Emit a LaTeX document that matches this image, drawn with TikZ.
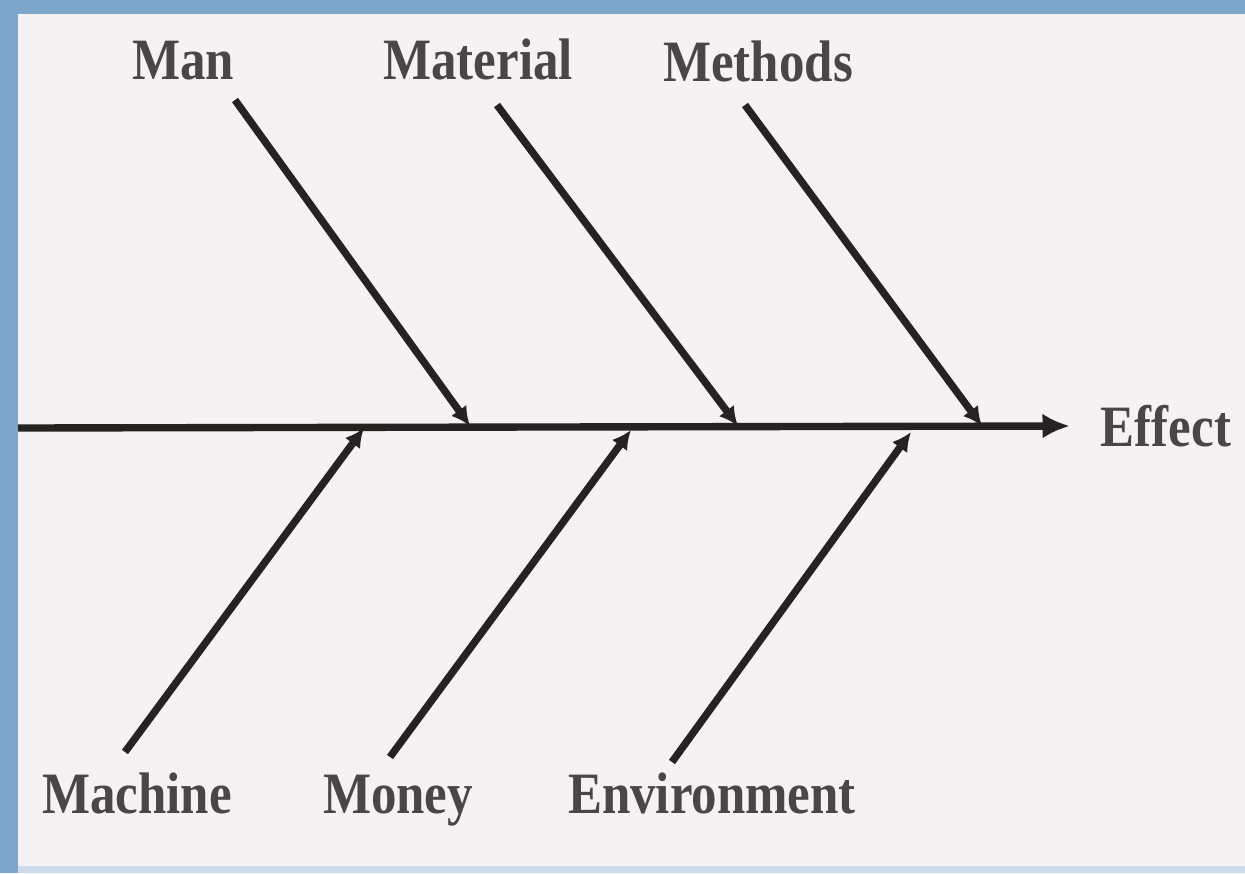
\documentclass[tikz,border=0pt]{standalone}
\usepackage{fontspec}
\setmainfont{Liberation Serif}
\usetikzlibrary{arrows.meta}
\definecolor{bgc}{HTML}{F4F2F2}
\definecolor{framec}{HTML}{7DA6CB}
\definecolor{linec}{HTML}{262222}
\definecolor{textc}{HTML}{4A4646}
\tikzset{
  bone/.style={draw=linec, line width=4.2pt, -{Latex[length=0.38cm,width=0.38cm]}},
  spine/.style={draw=linec, line width=4.2pt, -{Latex[length=0.55cm,width=0.5cm]}},
  lbl/.style={text=textc, font=\fontsize{29}{32}\selectfont\bfseries, inner sep=0pt, anchor=base},
}
\begin{document}
\begin{tikzpicture}[x=0.02cm, y=-0.02cm]
\useasboundingbox (0,0) rectangle (1245,873);
\fill[framec] (0,0) rectangle (1245,873);
\fill[bgc] (18,14) rectangle (1245,866);
\fill[framec!40!white] (18,866) rectangle (1245,873);
% labels
\node[lbl] (man) at (183,79) {\scalebox{1}[1.15]{Man}};
\node[lbl] (material) at (478,79) {\scalebox{1}[1.15]{Material}};
\node[lbl] (methods) at (758,81) {\scalebox{1}[1.15]{Methods}};
\node[lbl] (effect) at (1166,446) {\scalebox{1}[1.15]{Effect}};
\node[lbl] (machine) at (137,813) {\scalebox{1}[1.15]{Machine}};
\node[lbl] (money) at (398,813) {\scalebox{1}[1.15]{Money}};
\node[lbl] (environment) at (712,813) {\scalebox{1}[1.15]{Environment}};
% spine
\coordinate (tail) at (18,428);
\coordinate (head) at (1070,426);
\draw[spine] (tail) -- (head);
% upper bones
\coordinate (manA) at (235,100);   \coordinate (manB) at (470,426);
\coordinate (matA) at (497,105);   \coordinate (matB) at (738,426);
\coordinate (metA) at (745,105);   \coordinate (metB) at (982,426);
\draw[bone] (manA) -- (manB);
\draw[bone] (matA) -- (matB);
\draw[bone] (metA) -- (metB);
% lower bones
\coordinate (macA) at (125,752);   \coordinate (macB) at (364,428);
\coordinate (monA) at (390,757);   \coordinate (monB) at (631,430);
\coordinate (envA) at (672,762);   \coordinate (envB) at (911,432);
\draw[bone] (macA) -- (macB);
\draw[bone] (monA) -- (monB);
\draw[bone] (envA) -- (envB);
\end{tikzpicture}
\end{document}
